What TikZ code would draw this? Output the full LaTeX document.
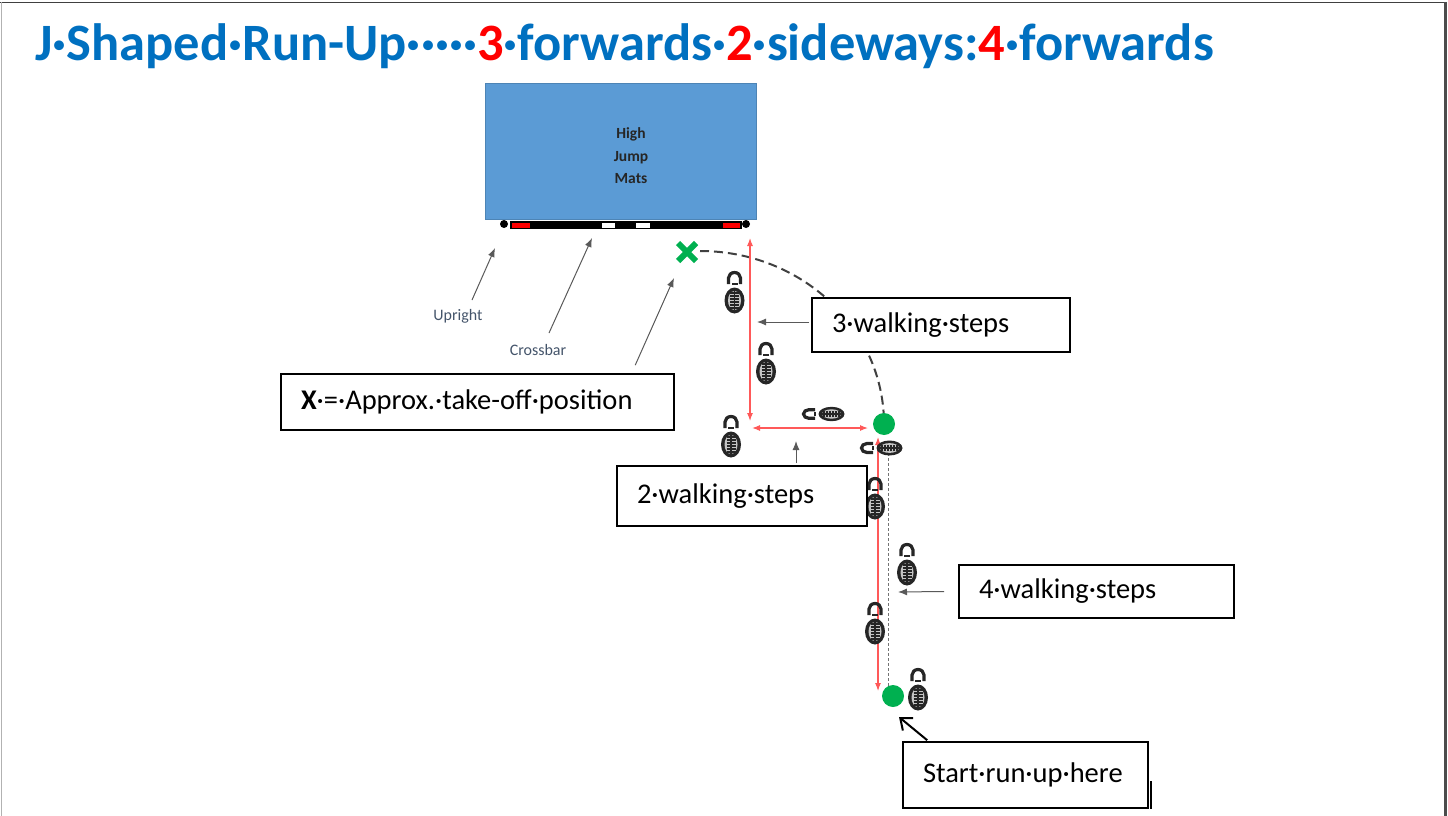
\documentclass[tikz,border=0pt]{standalone}
\usepackage{fontspec}
\setmainfont{Carlito}
\usetikzlibrary{arrows.meta,shapes.misc}

\definecolor{titleblue}{HTML}{0070C0}
\definecolor{titlered}{HTML}{FF0000}
\definecolor{matblue}{HTML}{5B9BD5}
\definecolor{runred}{HTML}{FF3030}
\definecolor{spotgreen}{HTML}{00B050}
\definecolor{slate}{HTML}{44546A}
\definecolor{ink}{HTML}{262626}

\tikzset{
  callout/.style={draw=black, fill=white, line width=1.6pt, inner xsep=20pt,
    inner ysep=0pt, align=left, font=\fontsize{28.5}{32}\selectfont},
  pointer/.style={draw=black!65, line width=1pt, -{Latex[length=9pt,width=7pt]}},
  runline/.style={draw=runred!80, line width=1.1pt,
    {Latex[length=8pt,width=6pt]}-{Latex[length=8pt,width=6pt]}},
  spot/.style={circle, fill=spotgreen, inner sep=0pt, minimum size=22pt},
  post/.style={circle, fill=black, inner sep=0pt, minimum size=8pt},
  smalllabel/.style={text=slate, font=\fontsize{16}{18}\selectfont, inner sep=0pt},
  % one shoe print: small heel arch on top, tread sole below
  shoe/.pic={
    \draw[ink, line width=3.2pt] (-6,-8) -- (-6,-14)
      arc[start angle=180, end angle=360, x radius=6, y radius=5.5] -- (6,-8);
    \fill[ink] (-3,-9) rectangle (3,-7);
    \fill[ink] (0,8.5) ellipse[x radius=10, y radius=13];
    \fill[gray!45] (0,8.5) ellipse[x radius=6.5, y radius=9.5];
    \foreach \yy in {1,4,...,16}
      \draw[ink, line width=1.2pt] (-4.5,\yy) -- (4.5,\yy);
    \draw[ink, line width=1.1pt] (0,-1) -- (0,18);
  }
}

\begin{document}
\begin{tikzpicture}[x=1pt, y=-1pt]
\useasboundingbox (0,0) rectangle (1448,816);

% page frame
\draw[black!75, line width=1.5pt] (0,2.5) -- (1446,2.5);
\draw[black!30, line width=1pt] (1,2.5) -- (1,816);
\draw[black!70, line width=3pt] (1445,2) -- (1445,816);

% heading
\node[anchor=base west, inner sep=0pt, text=titleblue,
  font=\fontsize{52.5}{60}\selectfont\bfseries] (title) at (35,61)
  {J·Shaped·Run-Up·····\textcolor{titlered}{3}·forwards·\textcolor{titlered}{2}·sideways:\textcolor{titlered}{4}·forwards};

% landing mats, crossbar and uprights
\node[draw=matblue!85!black, fill=matblue, line width=0.8pt,
  minimum width=271pt, minimum height=136pt, inner sep=0pt] (mat) at (620.5,151) {};
\node[align=center, text=ink, font=\fontsize{15.5}{22.5}\selectfont\bfseries]
  (matlabel) at (631,156) {High\\Jump\\Mats};
\fill[black] (510,221) rectangle (742,229);
\fill[red] (512,222.5) rectangle (530,227.5);
\fill[red] (723,222.5) rectangle (740,227.5);
\fill[white] (602,222.5) rectangle (615,227.5);
\fill[white] (636,222.5) rectangle (650,227.5);
\node[post] (postL) at (504,224) {};
\node[post] (postR) at (746,224) {};

\node[smalllabel] (upright) at (458,316) {Upright};
\node[smalllabel] (crossbar) at (538,350) {Crossbar};
\coordinate (uprightTail) at (472,300);
\coordinate (uprightTip) at (495,248);
\coordinate (barTail) at (549,333);
\coordinate (barTip) at (592,238);
\draw[pointer] (uprightTail) -- (uprightTip);
\draw[pointer] (barTail) -- (barTip);

% take-off mark and curved approach
\node[cross out, draw=spotgreen, line width=6pt, minimum size=12pt, inner sep=0pt]
  (takeoff) at (687,252) {};
\draw[black!75, line width=2pt, dash pattern=on 9pt off 5pt]
  (700,251) arc[start angle=270, end angle=360, x radius=184, y radius=173];

% walking step lines
\draw[runline] (750,238) -- (750,421);
\draw[runline] (752,428) -- (868,428);
\draw[runline] (878,437) -- (878,691);
\draw[black!55, line width=0.9pt, dash pattern=on 3pt off 2pt] (888,448) -- (888,686);

% shoe prints
\pic at (734.5,292) {shoe};
\pic at (766,363) {shoe};
\pic at (731,436) {shoe};
\pic[rotate=90, xscale=0.72] at (823,414) {shoe};
\pic[rotate=90, xscale=0.75] at (881,448) {shoe};
\pic at (875,498) {shoe};
\pic at (907,564) {shoe};
\pic at (875,623) {shoe};
\pic at (918,689) {shoe};

% turning point and start point
\node[spot] (pivot) at (884,424) {};
\node[spot] (start) at (893,696) {};

% text boxes
\node[callout, minimum width=258pt, minimum height=54pt, text width=218pt]
  (three) at (941,325) {3·walking·steps};
\node[callout, minimum width=393pt, minimum height=56pt, text width=353pt]
  (xbox) at (477.5,402) {\textbf{X}·=·Approx.·take-off·position};
\node[callout, minimum width=250pt, minimum height=60pt, text width=210pt]
  (two) at (742,496) {2·walking·steps};
\node[callout, minimum width=275pt, minimum height=53pt, text width=235pt]
  (four) at (1096.5,591.5) {4·walking·steps};
\node[callout, minimum width=245pt, minimum height=66pt, text width=205pt]
  (startbox) at (1025.5,775) {Start·run·up·here};
\draw[black, line width=2.5pt] ([xshift=2pt]startbox.south east) -- ++(0,-28);

% pointers from the boxes
\coordinate (threeTip) at (757,322);
\coordinate (twoTip) at (796,441);
\coordinate (fourTip) at (898,592);
\coordinate (takeoffTip) at (674,278);
\coordinate (startTip) at (899,717);
\draw[pointer] ([yshift=3pt,xshift=-2pt]three.west) -- (threeTip);
\draw[pointer] ([xshift=54pt,yshift=2pt]two.north) -- (twoTip);
\draw[pointer] ([xshift=-14pt]four.west) -- (fourTip);
\draw[pointer] ([xshift=355pt,yshift=8pt]xbox.north west) -- (takeoffTip);
\draw[black, line width=2pt, -{Straight Barb[length=10pt,width=16pt]}]
  ([xshift=25pt,yshift=1pt]startbox.north west) -- (startTip);
\end{tikzpicture}
\end{document}
